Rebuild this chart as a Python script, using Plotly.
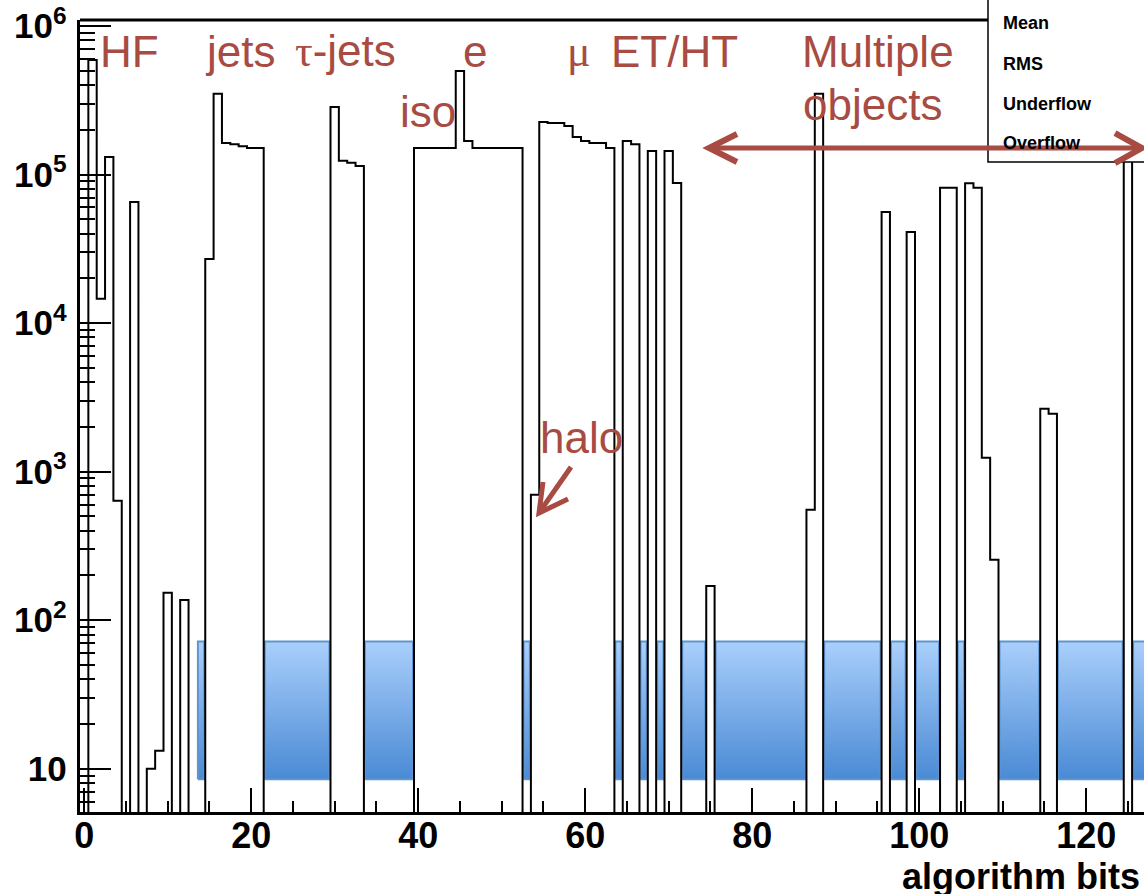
import plotly.graph_objects as go

# ------------------------------------------------------------------ data
bits = list(range(128))
counts = [
    0, 5.90e5, 1.46e4, 1.31e5, 636, 0, 6.54e4, 0, 10, 13.2,            # 0-9
    153, 0, 137, 0, 0, 2.70e4, 3.49e5, 1.63e5, 1.60e5, 1.55e5,         # 10-19
    1.51e5, 1.51e5, 0, 0, 0, 0, 0, 0, 0, 0,                            # 20-29
    2.85e5, 1.24e5, 1.20e5, 1.14e5, 0, 0, 0, 0, 0, 0,                  # 30-39
    1.51e5, 1.51e5, 1.51e5, 1.51e5, 1.51e5, 4.98e5, 1.68e5, 1.51e5, 1.51e5, 1.51e5,  # 40-49
    1.51e5, 1.51e5, 1.51e5, 0, 698, 2.26e5, 2.22e5, 2.22e5, 2.12e5, 1.79e5,          # 50-59
    1.68e5, 1.63e5, 1.63e5, 1.51e5, 0, 1.68e5, 1.60e5, 0, 1.44e5, 0,   # 60-69
    1.44e5, 8.78e4, 0, 0, 0, 170, 0, 0, 0, 0,                          # 70-79
    0, 0, 0, 0, 0, 0, 0, 553, 3.49e5, 0,                               # 80-89
    0, 0, 0, 0, 0, 0, 5.60e4, 0, 0, 4.11e4,                            # 90-99
    0, 0, 0, 8.13e4, 8.13e4, 0, 8.74e4, 8.16e4, 1.24e3, 255,           # 100-109
    0, 0, 0, 0, 0, 2.65e3, 2.45e3, 0, 0, 0,                            # 110-119
    0, 0, 0, 0, 0, 2.0e5, 0, 0,                                        # 120-127
]
unused_bits = [14, *range(22, 30), *range(34, 40), 53, 64, 67, 69, *range(72, 75),
               *range(76, 87), *range(89, 96), 97, 98, *range(100, 103), 105,
               *range(110, 115), *range(117, 125), 126, 127]
unused_band = [8.5, 72.0]

group_labels = ["HF", "jets", "τ-jets", "e", "iso", "μ", "ET/HT", "Multiple", "objects", "halo"]
stat_labels = ["Mean", "RMS", "Underflow", "Overflow"]
x_title = "algorithm bits"

# ------------------------------------------------------------------ style
SANS = "Liberation Sans, Arial, Helvetica, sans-serif"
SERIF = "Liberation Serif, Times New Roman, serif"
RED = "#A84B42"
W, H = 1144, 894
L, T, R, B = 80, 20, 0, 82
PW, PH = W - L - R, H - T - B
FLOOR = 1.0  # empty bins drawn below the visible log range


def px_x(px):
    return (px - L) / PW


def px_y(py):
    return (T + PH - py) / PH


fig = go.Figure()

# unused-bit band (blue boxes), one rectangle per run of consecutive bits
runs = []
for b in unused_bits:
    if runs and b == runs[-1][1] + 1:
        runs[-1][1] = b
    else:
        runs.append([b, b])
lo, hi = unused_band
for a, e in runs:
    x0, x1 = a - 0.5 + 0.12, e + 0.5 - 0.12
    fig.add_trace(go.Scatter(
        x=[x0, x1, x1, x0, x0], y=[lo, lo, hi, hi, lo], mode="lines", fill="toself",
        fillgradient=dict(type="vertical", colorscale=[[0, "#4A8AD5"], [1, "#AACFFB"]]),
        line=dict(color="#5F95D0", width=2), hoverinfo="skip", showlegend=False))

# histogram outline
edges_x = [b - 0.5 for b in bits] + [bits[-1] + 0.5]
step_y = [c if c > 0 else FLOOR for c in counts]
step_y.append(step_y[-1])
fig.add_trace(go.Scatter(
    x=edges_x, y=step_y, mode="lines",
    line=dict(color="black", width=2, shape="hv"),
    hoverinfo="skip", showlegend=False))

# ------------------------------------------------------------------ decorations
shapes = []
# top frame (right part hidden by stats box)
shapes.append(dict(type="line", xref="paper", yref="paper", x0=0, x1=px_x(988), y0=1, y1=1,
                   line=dict(color="black", width=3), layer="above"))
# stats box
shapes.append(dict(type="rect", xref="paper", yref="paper",
                   x0=px_x(988), x1=px_x(1170), y0=px_y(162), y1=px_y(-20),
                   fillcolor="white", line=dict(color="black", width=1.5), layer="above"))


def path(points):
    return "M " + " L ".join(f"{px_x(x):.5f},{px_y(y):.5f}" for x, y in points)


def red_path(points, width=5):
    shapes.append(dict(type="path", xref="paper", yref="paper", path=path(points),
                       line=dict(color=RED, width=width), layer="above"))


# double arrow for "Multiple objects"
red_path([(712, 148), (1139, 148)], 5)
red_path([(737, 134), (709, 148), (737, 162)], 6)
red_path([(1115, 133), (1142, 148), (1115, 163)], 6)
# halo arrow
red_path([(571, 467), (541, 510)], 5)
red_path([(543, 482), (539, 513), (568, 499)], 5)

annotations = []


def label(text, left, cap_center, size=44, color=RED, bold=False, anchor="left"):
    annotations.append(dict(
        x=px_x(left), y=px_y(cap_center), xref="paper", yref="paper",
        xanchor=anchor, yanchor="middle", text=text, showarrow=False,
        font=dict(family=SANS, size=size, color=color, weight="bold" if bold else "normal")))


def greek(ch):
    return f'<span style="font-family:{SERIF}">{ch}</span>'


lab = dict(zip(group_labels, group_labels))
label(lab["HF"], 98, 51)
label(lab["jets"], 203, 51)
label(greek("τ") + lab["τ-jets"][1:], 293, 51)
label(lab["e"], 461, 51)
label(lab["iso"], 398, 111)
label(greek("μ"), 565, 51)
label(lab["ET/HT"], 609, 51)
label(lab["Multiple"], 800, 51)
label(lab["objects"], 801, 104)
label(lab["halo"], 538, 437)

for txt, yc in zip(stat_labels, [23, 64, 104, 143]):
    label(txt, 1001, yc, size=18, color="black", bold=True)

label(x_title, W - 2, 876, size=36, color="black", bold=True, anchor="right")

# ------------------------------------------------------------------ layout
fig.update_layout(
    width=W, height=H,
    margin=dict(l=L, r=R, t=T, b=B, pad=0),
    paper_bgcolor="white", plot_bgcolor="white",
    showlegend=False,
    shapes=shapes, annotations=annotations,
    xaxis=dict(
        range=[-0.5, -0.5 + PW / 8.35], showgrid=False, zeroline=False,
        showline=True, linecolor="black", linewidth=2.5,
        tickmode="linear", tick0=0, dtick=20,
        ticks="inside", ticklen=24, tickwidth=2, tickcolor="black",
        minor=dict(ticks="inside", ticklen=11, tickwidth=2, tickcolor="black", dtick=5, showgrid=False),
        tickfont=dict(family=SANS, size=36, color="black", weight="bold"),
        ticklabelstandoff=-10,
    ),
    yaxis=dict(
        type="log", range=[0.709, 6.040], showgrid=False, zeroline=False,
        showline=True, linecolor="black", linewidth=2.5,
        dtick=1, exponentformat="power",
        ticks="inside", ticklen=31, tickwidth=2, tickcolor="black",
        minor=dict(ticks="inside", ticklen=15, tickwidth=2, tickcolor="black", dtick="D1", showgrid=False),
        tickfont=dict(family=SANS, size=28, color="black", weight="bold"),
        ticklabelstandoff=5,
    ),
)

fig.write_html("out.html", config={"displayModeBar": False})
